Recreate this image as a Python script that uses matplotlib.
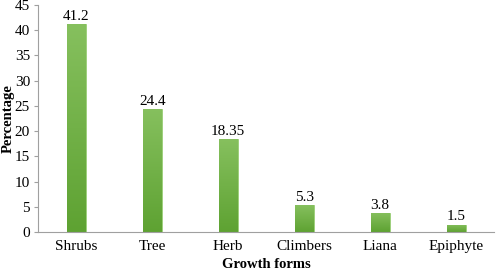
import matplotlib.pyplot as plt
import numpy as np
from matplotlib.colors import LinearSegmentedColormap

plt.rcParams['font.family'] = ['Liberation Serif', 'DejaVu Serif']

forms = ['Shrubs', 'Tree', 'Herb', 'Climbers', 'Liana', 'Epiphyte']
percent = [41.2, 24.4, 18.35, 5.3, 3.8, 1.5]
labels = ['41.2', '24.4', '18.35', '5.3', '3.8', '1.5']

fig = plt.figure(figsize=(4.98, 2.74), dpi=100)
ax = fig.add_axes([0.077, 0.153, 0.915, 0.829])

x = np.arange(len(forms))
bars = ax.bar(x, percent, width=0.25, color='#6aae3e', edgecolor='#9ccf78', linewidth=0.6, zorder=2)

# vertical gradient inside each bar (light top, darker bottom)
grad = np.linspace(0, 1, 256).reshape(-1, 1)
cmap = LinearSegmentedColormap.from_list('g', ['#5ea232', '#86c05e'])
for b in bars:
    x0, w, h = b.get_x(), b.get_width(), b.get_height()
    im = ax.imshow(grad, cmap=cmap, aspect='auto', origin='lower',
                   extent=[x0, x0 + w, 0, h], zorder=2.5)
    im.set_clip_path(b)

for xi, v, t in zip(x, percent, labels):
    ax.text(xi, v + 0.2, t, ha='center', va='bottom', fontsize=11)

ax.set_xlim(-0.5, len(forms) - 0.5)
ax.set_ylim(0, 45)
ax.set_yticks(range(0, 46, 5))
ax.set_xticks(x)
ax.set_xticklabels(forms, fontsize=11)
ax.tick_params(axis='y', labelsize=11, length=3, color='#a0a0a0', pad=3)
ax.tick_params(axis='x', length=0, pad=6)
for s in ['top', 'right']:
    ax.spines[s].set_visible(False)
for s in ['left', 'bottom']:
    ax.spines[s].set_color('#a0a0a0')
    ax.spines[s].set_linewidth(0.8)

ax.set_ylabel('Percentage', fontsize=10.5, fontweight='bold')
ax.yaxis.set_label_coords(-0.052, 0.5)
ax.set_xlabel('Growth forms', fontsize=10.5, fontweight='bold', labelpad=3)

fig.savefig('out.png', dpi=100)
